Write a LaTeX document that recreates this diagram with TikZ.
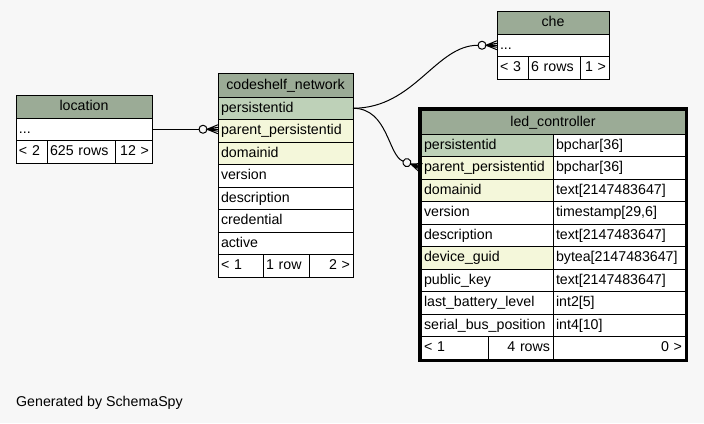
\documentclass[tikz,border=0pt]{standalone}
\usepackage{fontspec}
\setmainfont{Liberation Sans}
\usetikzlibrary{positioning}

\definecolor{pagebg}{HTML}{F7F7F7}
\definecolor{headgreen}{HTML}{9BAB96}
\definecolor{pkgreen}{HTML}{BED1B8}
\definecolor{fkyellow}{HTML}{F4F7DA}

\newcommand{\tabfont}{\fontsize{14.2}{17}\selectfont}

% crow's foot with open circle, as the schema tool draws it
\pgfdeclarearrow{
  name = crowodot,
  setup code = {
    \pgfarrowssettipend{0pt}
    \pgfarrowssetlineend{-19pt}
    \pgfarrowssetbackend{-19.5pt}
  },
  drawing code = {
    \pgfsetdash{}{0pt}
    \pgfpathmoveto{\pgfpoint{0pt}{4.5pt}}
    \pgfpathlineto{\pgfpoint{-11pt}{0pt}}
    \pgfpathlineto{\pgfpoint{0pt}{-4.5pt}}
    \pgfpathmoveto{\pgfpoint{-11pt}{0pt}}
    \pgfpathlineto{\pgfpoint{0pt}{2pt}}
    \pgfpathmoveto{\pgfpoint{-11pt}{0pt}}
    \pgfpathlineto{\pgfpoint{0pt}{-2pt}}
    \pgfpathmoveto{\pgfpoint{-11pt}{0pt}}
    \pgfpathlineto{\pgfpoint{0pt}{0pt}}
    \pgfpathcircle{\pgfpoint{-15pt}{0pt}}{4pt}
    \pgfusepathqstroke
  }
}

\tikzset{
  cell/.style={draw, line width=1pt, outer sep=0pt, inner xsep=3pt, inner ysep=0pt,
    minimum height=22.5pt, text height=10.5pt, text depth=2.5pt,
    fill=white, align=left, font=\tabfont},
  headcell/.style={cell, fill=headgreen, align=center, minimum height=24pt},
  pkcell/.style={cell, fill=pkgreen},
  fkcell/.style={cell, fill=fkyellow},
  footr/.style={cell, align=right},
  link/.style={line width=1pt, -crowodot},
}

\begin{document}
\begin{tikzpicture}[x=1pt, y=-1pt]
  \fill[pagebg] (0,0) rectangle (704,423);
  \useasboundingbox (0,0) rectangle (704,423);

  \begin{scope}[node distance=0]
    % location
    \node[headcell, minimum height=23pt, text width=130pt, anchor=north west] (loc) at (16,95) {location};
    \node[cell, text width=130pt, below=of loc] (loc-row) {...};
    \node[cell, text width=25pt, below=of loc-row.south west, anchor=north west] (loc-f1) {< 2};
    \node[cell, text width=62pt, right=of loc-f1] (loc-f2) {625 rows};
    \node[footr, text width=31pt, right=of loc-f2] (loc-f3) {12 >};

    % codeshelf_network
    \node[headcell, text width=129pt, anchor=north west] (cs) at (218,73) {codeshelf\_network};
    \node[pkcell, text width=129pt, below=of cs] (cs-pk) {persistentid};
    \node[fkcell, text width=129pt, below=of cs-pk] (cs-parent) {parent\_persistentid};
    \node[fkcell, text width=129pt, below=of cs-parent] (cs-domain) {domainid};
    \node[cell, text width=129pt, below=of cs-domain] (cs-version) {version};
    \node[cell, text width=129pt, below=of cs-version] (cs-desc) {description};
    \node[cell, text width=129pt, below=of cs-desc] (cs-cred) {credential};
    \node[cell, text width=129pt, below=of cs-cred] (cs-active) {active};
    \node[cell, text width=39pt, below=of cs-active.south west, anchor=north west] (cs-f1) {< 1};
    \node[cell, text width=40pt, right=of cs-f1] (cs-f2) {1 row};
    \node[footr, text width=38pt, right=of cs-f2] (cs-f3) {2 >};

    % che
    \node[headcell, minimum height=23pt, text width=106pt, anchor=north west] (che) at (497,11) {che};
    \node[cell, text width=106pt, below=of che] (che-row) {...};
    \node[cell, text width=25pt, below=of che-row.south west, anchor=north west] (che-f1) {< 3};
    \node[cell, text width=46pt, right=of che-f1] (che-f2) {6 rows};
    \node[footr, text width=23pt, right=of che-f2] (che-f3) {1 >};

    % led_controller
    \node[headcell, text width=258pt, anchor=north west] (led) at (421,110) {led\_controller};
    \node[pkcell, text width=126pt, below=of led.south west, anchor=north west] (led-pk) {persistentid};
    \node[fkcell, text width=126pt, below=of led-pk] (led-parent) {parent\_persistentid};
    \node[fkcell, text width=126pt, below=of led-parent] (led-domain) {domainid};
    \node[cell, text width=126pt, below=of led-domain] (led-version) {version};
    \node[cell, text width=126pt, below=of led-version] (led-desc) {description};
    \node[fkcell, text width=126pt, below=of led-desc] (led-guid) {device\_guid};
    \node[cell, text width=126pt, below=of led-guid] (led-key) {public\_key};
    \node[cell, text width=126pt, below=of led-key] (led-battery) {last\_battery\_level};
    \node[cell, text width=126pt, below=of led-battery] (led-bus) {serial\_bus\_position};
    \node[cell, text width=126pt, right=of led-pk] (led-pk-t) {bpchar[36]};
    \node[cell, text width=126pt, right=of led-parent] (led-parent-t) {bpchar[36]};
    \node[cell, text width=126pt, right=of led-domain] (led-domain-t) {text[2147483647]};
    \node[cell, text width=126pt, right=of led-version] (led-version-t) {timestamp[29,6]};
    \node[cell, text width=126pt, right=of led-desc] (led-desc-t) {text[2147483647]};
    \node[cell, text width=126pt, right=of led-guid] (led-guid-t) {bytea[2147483647]};
    \node[cell, text width=126pt, right=of led-key] (led-key-t) {text[2147483647]};
    \node[cell, text width=126pt, right=of led-battery] (led-battery-t) {int2[5]};
    \node[cell, text width=126pt, right=of led-bus] (led-bus-t) {int4[10]};
    \node[cell, text width=61pt, below=of led-bus.south west, anchor=north west] (led-f1) {< 1};
    \node[footr, text width=59pt, right=of led-f1] (led-f2) {4 rows};
    \node[footr, text width=126pt, right=of led-f2] (led-f3) {0 >};
  \end{scope}

  \draw[line width=3pt] ([shift={(-1.5,-1.5)}]led.north west) rectangle ([shift={(1.5,1.5)}]led-f3.south east);

  \draw[link] (loc-row.east) -- (loc-row.east -| cs-parent.west);
  \draw[link] (cs-pk.east) to[out=0, in=180] (che-row.west);
  \draw[link] (cs-pk.east) to[out=0, in=160] (led-parent.west);

  \node[anchor=base west, inner sep=0pt, font=\tabfont] (credit) at (16,406) {Generated by SchemaSpy};
\end{tikzpicture}
\end{document}
